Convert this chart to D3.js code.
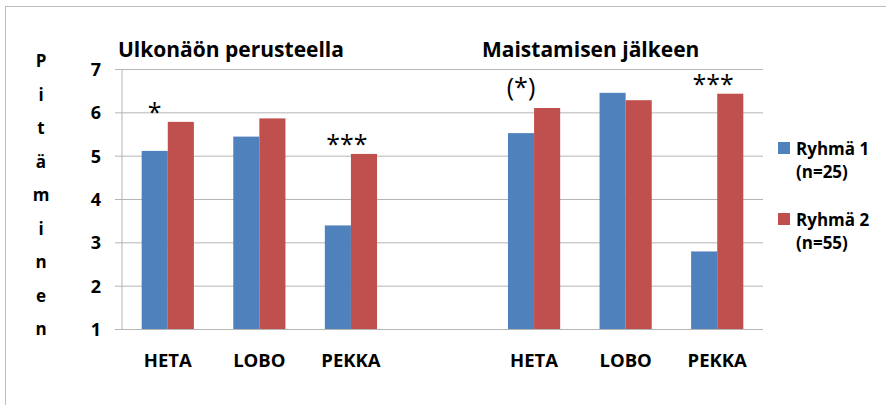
<!DOCTYPE html>
<html>
<head>
<meta charset="utf-8">
<script src="https://cdn.jsdelivr.net/npm/d3@7/dist/d3.min.js"></script>
<style>
    body { margin: 0; background: #fff; }
    text { font-family: "Open Sans", Lato, sans-serif; fill: #000; }
</style>
</head>
<body>
<div id="chart"></div>
<script>
// Data
const panels = ["Ulkonäön perusteella", "Maistamisen jälkeen"];
const categories = ["HETA", "LOBO", "PEKKA"];
const ryhma1 = [5.11, 5.44, 3.39, 5.52, 6.45, 2.79];   // Ryhmä 1 (n=25)
const ryhma2 = [5.78, 5.86, 5.04, 6.10, 6.28, 6.43];   // Ryhmä 2 (n=55)
const seriesNames = ["Ryhmä 1", "Ryhmä 2"];
const seriesNotes = ["(n=25)", "(n=55)"];
const yTicks = [1, 2, 3, 4, 5, 6, 7];
const yLabel = "Pitäminen";
// significance marks: panel, category, text, over which bar
const marks = [
    { panel: 0, cat: "HETA", text: "*", over: "blue" },
    { panel: 0, cat: "PEKKA", text: "***", over: "group" },
    { panel: 1, cat: "HETA", text: "(*)", over: "blue" },
    { panel: 1, cat: "PEKKA", text: "***", over: "group" }
];

function renderChart() {
    const W = 886, H = 405;
    const margin = { top: 69, right: 123, bottom: 76, left: 122 };
    const width = W - margin.left - margin.right;
    const height = H - margin.top - margin.bottom;
    const colors = ["#4F81BD", "#C0504D"];

    const svg = d3.select("#chart").append("svg")
        .attr("width", W)
        .attr("height", H);

    // outer frame
    svg.append("rect")
        .attr("x", 5.5).attr("y", 6.5)
        .attr("width", W).attr("height", H)
        .style("fill", "none")
        .style("stroke", "#bdbdbd");

    const g = svg.append("g")
        .attr("transform", `translate(${margin.left},${margin.top})`);

    // slots: three categories per panel, one empty slot between the panels
    const slots = [];
    panels.forEach((p, pi) => {
        if (pi > 0) slots.push("gap" + pi);
        categories.forEach(c => slots.push(pi + "-" + c));
    });

    const rows = [];
    panels.forEach((p, pi) => {
        categories.forEach((c, ci) => {
            const k = pi * categories.length + ci;
            rows.push({ panel: pi, cat: c, key: pi + "-" + c, values: [ryhma1[k], ryhma2[k]] });
        });
    });

    const x0 = d3.scaleBand()
        .domain(slots)
        .range([0, width])
        .paddingInner(0.43)
        .paddingOuter(0.215);

    const x1 = d3.scaleBand()
        .domain([0, 1])
        .range([0, x0.bandwidth()]);

    const y = d3.scaleLinear()
        .domain([1, 7])
        .range([height, 0]);

    // gridlines and tick labels
    const yAxis = g.append("g")
        .call(d3.axisLeft(y).tickValues(yTicks).tickSize(-width - 7).tickFormat(d3.format("d")))
        .attr("transform", "translate(-7,0)");
    yAxis.select(".domain").remove();
    yAxis.selectAll(".tick line")
        .attr("x1", 0).attr("x2", width + 7)
        .style("stroke", "#b5b5b5");
    yAxis.selectAll(".tick text")
        .attr("x", -14)
        .attr("dy", "0.36em")
        .style("font-size", "18px")
        .style("font-weight", "bold")
        .style("font-family", "'Open Sans', sans-serif");

    // vertical axis line
    g.append("line")
        .attr("x1", 0).attr("x2", 0)
        .attr("y1", 0).attr("y2", height)
        .style("stroke", "#b5b5b5");

    // bars
    const groups = g.selectAll(".grp")
        .data(rows)
        .enter().append("g")
        .attr("class", "grp")
        .attr("transform", d => `translate(${x0(d.key)},0)`);

    groups.selectAll("rect")
        .data(d => d.values.map((v, i) => ({ v: v, i: i })))
        .enter().append("rect")
        .attr("x", d => x1(d.i))
        .attr("width", x1.bandwidth())
        .attr("y", d => y(d.v))
        .attr("height", d => y(1) - y(d.v))
        .style("fill", d => colors[d.i]);

    // category labels
    g.selectAll(".cat-label")
        .data(rows)
        .enter().append("text")
        .attr("class", "cat-label")
        .attr("x", d => x0(d.key) + x0.bandwidth() / 2)
        .attr("y", height + 38)
        .attr("text-anchor", "middle")
        .style("font-size", "18.5px")
        .style("font-weight", "bold")
        .text(d => d.cat);

    // panel titles
    g.selectAll(".panel-title")
        .data(panels)
        .enter().append("text")
        .attr("class", "panel-title")
        .attr("x", (d, i) => i === 0 ? -4 : x0(i + "-" + categories[0]) - 26)
        .attr("y", -12)
        .style("font-size", "21px")
        .style("font-weight", "bold")
        .text(d => d);

    // significance marks
    g.selectAll(".sig")
        .data(marks)
        .enter().append("text")
        .attr("class", "sig")
        .attr("x", d => {
            const key = d.panel + "-" + d.cat;
            return d.over === "blue"
                ? x0(key) + x1(0) + x1.bandwidth() / 2
                : x0(key) + x0.bandwidth() / 2 - 4;
        })
        .attr("y", d => {
            const r = rows.find(r => r.key === d.panel + "-" + d.cat);
            return y(d3.max(r.values)) - (d.text.startsWith("(") ? 12 : 1);
        })
        .attr("text-anchor", "middle")
        .style("font-size", "25px")
        .text(d => d.text);

    // vertical y label, one letter per line
    svg.append("g").selectAll("text")
        .data(yLabel.split(""))
        .enter().append("text")
        .attr("x", 41)
        .attr("y", (d, i) => 67 + i * 33.5)
        .attr("text-anchor", "middle")
        .style("font-size", "17px")
        .style("font-weight", "bold")
        .text(d => d);

    // legend
    const legend = svg.append("g")
        .attr("transform", `translate(${margin.left + width + 15}, 155)`);

    const items = legend.selectAll(".legend-item")
        .data(seriesNames)
        .enter().append("g")
        .attr("class", "legend-item")
        .attr("transform", (d, i) => `translate(0, ${i * 71})`);

    items.append("rect")
        .attr("x", 0).attr("y", -13)
        .attr("width", 12).attr("height", 12)
        .style("fill", (d, i) => colors[i]);

    items.append("text")
        .attr("x", 18).attr("y", 0)
        .style("font-size", "17px")
        .style("font-weight", "bold")
        .text(d => d);

    items.append("text")
        .attr("x", 18).attr("y", 23)
        .style("font-size", "17px")
        .style("font-weight", "bold")
        .text((d, i) => seriesNotes[i]);
}

document.addEventListener("DOMContentLoaded", renderChart);
</script>
</body>
</html>
